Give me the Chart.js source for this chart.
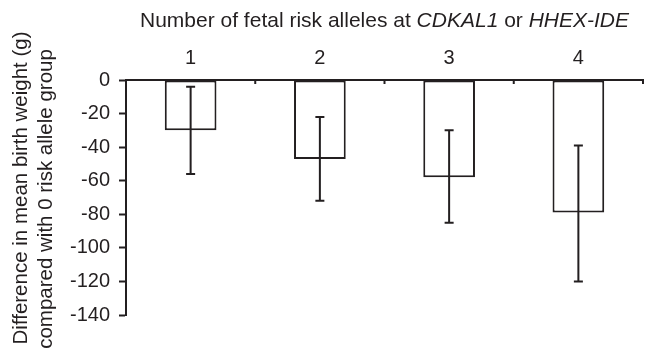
<!DOCTYPE html>
<html>
<head>
<meta charset="utf-8">
<script src="https://cdn.jsdelivr.net/npm/chart.js@4"></script>
<style>
  html, body { margin: 0; padding: 0; background: #fff; }
  #wrap { width: 647px; height: 356px; }
</style>
</head>
<body>
<div id="wrap"><canvas id="birthChart" width="647" height="356"></canvas></div>
<script>
// values
const alleleGroups = ['1', '2', '3', '4'];
const meanDiff = [-30, -47, -58, -79];
const ciLower = [-56, -72, -85, -120];
const ciUpper = [-4, -22, -30, -39];
const yTicks = [0, -20, -40, -60, -80, -100, -120, -140];

const ink = '#231f20';
const fontName = '"Liberation Sans", Arial, Helvetica, sans-serif';

// error bars, downward axis ticks and the titles
const extras = {
    id: 'extras',
    afterDatasetsDraw(chart) {
        const ctx = chart.ctx;
        const x = chart.scales.x;
        const y = chart.scales.y;
        ctx.save();
        ctx.strokeStyle = ink;
        ctx.lineWidth = 2;

        // error bars
        meanDiff.forEach((v, i) => {
            const px = x.getPixelForValue(i);
            const top = y.getPixelForValue(ciUpper[i]);
            const bot = y.getPixelForValue(ciLower[i]);
            ctx.beginPath();
            ctx.moveTo(px, top);
            ctx.lineTo(px, bot);
            ctx.moveTo(px - 4.5, top);
            ctx.lineTo(px + 4.5, top);
            ctx.moveTo(px - 4.5, bot);
            ctx.lineTo(px + 4.5, bot);
            ctx.stroke();
        });

        // small ticks below the zero line at category boundaries
        const zero = y.getPixelForValue(0);
        for (let i = 0; i < alleleGroups.length; i++) {
            const bx = x.getPixelForValue(i + 0.5);
            ctx.beginPath();
            ctx.moveTo(bx, zero);
            ctx.lineTo(bx, zero + 4);
            ctx.stroke();
        }

        // top title with italic gene names
        const parts = [
            ['Number of fetal risk alleles at ', ''],
            ['CDKAL1', 'italic '],
            [' or ', ''],
            ['HHEX-IDE', 'italic ']
        ];
        ctx.fillStyle = ink;
        ctx.textBaseline = 'alphabetic';
        ctx.textAlign = 'left';
        let total = 0;
        parts.forEach(p => {
            ctx.font = p[1] + '21px ' + fontName;
            total += ctx.measureText(p[0]).width;
        });
        let tx = (chart.chartArea.left + chart.chartArea.right) / 2 - total / 2;
        parts.forEach(p => {
            ctx.font = p[1] + '21px ' + fontName;
            ctx.fillText(p[0], tx, 27);
            tx += ctx.measureText(p[0]).width;
        });

        // rotated y title, two lines
        ctx.font = '20.5px ' + fontName;
        ctx.textAlign = 'center';
        ctx.save();
        ctx.translate(27, 188);
        ctx.rotate(-Math.PI / 2);
        ctx.fillText('Difference in mean birth weight (g)', 0, 0);
        ctx.restore();
        ctx.save();
        ctx.translate(52, 199);
        ctx.rotate(-Math.PI / 2);
        ctx.fillText('compared with 0 risk allele group', 0, 0);
        ctx.restore();

        ctx.restore();
    }
};

new Chart(document.getElementById('birthChart'), {
    type: 'bar',
    data: {
        labels: alleleGroups,
        datasets: [{
            data: meanDiff,
            backgroundColor: '#ffffff',
            borderColor: ink,
            borderWidth: 2,
            borderSkipped: false,
            barPercentage: 0.4,
            categoryPercentage: 1.0
        }]
    },
    options: {
        responsive: false,
        animation: false,
        events: [],
        layout: { padding: { top: 0, left: 0, right: 4, bottom: 41 } },
        plugins: {
            legend: { display: false },
            tooltip: { enabled: false },
            title: { display: false }
        },
        scales: {
            x: {
                position: 'top',
                offset: true,
                grid: { display: false, drawTicks: false },
                border: { display: true, color: ink, width: 2 },
                ticks: {
                    color: ink,
                    font: { family: fontName, size: 20 },
                    padding: 10,
                    maxRotation: 0
                },
                afterFit(scale) { scale.height = 80; }
            },
            y: {
                min: -140,
                max: 0,
                afterBuildTicks(scale) {
                    scale.ticks = yTicks.map(v => ({ value: v }));
                },
                grid: {
                    drawOnChartArea: false,
                    drawTicks: true,
                    tickLength: 7,
                    tickWidth: 2,
                    tickColor: ink
                },
                border: { display: true, color: ink, width: 2 },
                ticks: {
                    color: ink,
                    font: { family: fontName, size: 20 },
                    padding: 9
                },
                afterFit(scale) { scale.width = 126; }
            }
        }
    },
    plugins: [extras]
});
</script>
</body>
</html>
